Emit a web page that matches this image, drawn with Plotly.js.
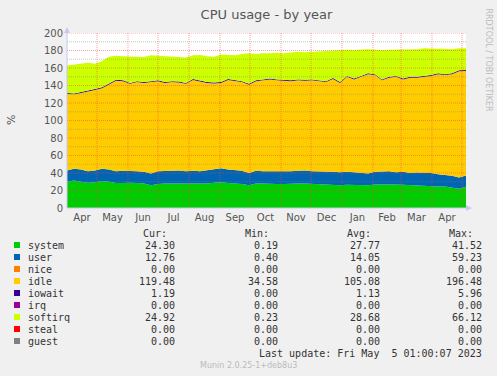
<!DOCTYPE html>
<html><head><meta charset="utf-8">
<script src="https://cdn.plot.ly/plotly-3.0.1.min.js"></script>
<style>html,body{margin:0;padding:0;background:#F0F0F0;}#c{width:497px;height:376px;}</style>
</head><body><div id="c"></div>
<script>
const dates = ["2022-04-01","2022-04-08","2022-04-15","2022-04-22","2022-04-29","2022-05-06","2022-05-13","2022-05-20","2022-05-27","2022-06-03","2022-06-10","2022-06-17","2022-06-24","2022-07-01","2022-07-08","2022-07-15","2022-07-22","2022-07-29","2022-08-05","2022-08-12","2022-08-19","2022-08-26","2022-09-02","2022-09-09","2022-09-16","2022-09-23","2022-09-30","2022-10-07","2022-10-14","2022-10-21","2022-10-28","2022-11-04","2022-11-11","2022-11-18","2022-11-25","2022-12-02","2022-12-09","2022-12-16","2022-12-23","2022-12-30","2023-01-06","2023-01-13","2023-01-20","2023-01-27","2023-02-03","2023-02-10","2023-02-17","2023-02-24","2023-03-03","2023-03-10","2023-03-17","2023-03-24","2023-03-31","2023-04-07","2023-04-14","2023-04-21","2023-04-28","2023-05-05"];
const system = [30,31.5,30,29,29.5,31,30,28.5,28.5,29,28.5,28,26,27.5,28,28,28.5,28,28,28.5,28,29,29.5,28.5,28,27.5,26,28,28,27.5,27.5,27.5,28,28,28,27.5,27.5,27,26.5,26,26.5,26.5,26,26,27,27,27.5,27,26.5,26,26,25.5,25,24.5,24.5,23.5,22,24.30];
const user = [13,13.5,14,13,13.5,14,14,13.5,14,13.5,13.5,13.5,13.5,14.5,14.5,14.5,14.5,14,14.5,13.5,15,15,16,15.5,15.5,15,14,14.5,14,14.5,14,14.5,14,14.5,15,14.5,14.5,15,15,15,15,14.5,14,13.5,14.5,15,14.5,14,15,14,14.5,14.5,15,14,13.5,13.5,13,12.76];
const nice = dates.map(() => 0);
const idle = [87.4,84.9,87.4,90.9,91.9,91.9,96.9,103.4,102.4,99.4,101.9,101.4,104.4,102.9,100.4,101.4,100.4,99.9,103.9,102.9,99.9,98.4,97.4,102.4,101.4,101.4,100.9,102.4,103.9,104.9,104.4,103.4,102.9,103.4,102.4,103.9,102.9,101.9,105.9,101.9,108.4,105.9,109.9,113.4,110.4,103.9,106.9,108.9,105.4,108.9,108.4,109.9,110.9,114.4,113.9,115.9,121.4,119.48];
const iowait = [1.1,1.1,1.1,1.1,1.1,1.1,1.1,1.1,1.1,1.1,1.1,1.1,1.1,1.1,1.1,1.1,1.1,1.1,1.1,1.1,1.1,1.1,1.1,1.1,1.1,1.1,1.1,1.1,1.1,1.1,1.1,1.1,1.1,1.1,1.1,1.1,1.1,1.1,1.1,1.1,1.1,1.1,1.1,1.1,1.1,1.1,1.1,1.1,1.1,1.1,1.1,1.1,1.1,1.1,1.1,1.1,1.1,1.19];
const irq = dates.map(() => 0);
const softirq = [31.5,33,32.5,32,29,30,31,27.5,27.5,30,28,28.5,29.5,28,29,28,28,29,27,29,29.5,29.5,31.5,27.5,28.5,31,35,30,30,29,30.5,30.5,32,31.5,31.5,31.5,33,34.5,32,37,30,32.5,30,27.5,28,33.5,31,30,33,31.5,31.5,31.5,30,28,29,27.5,25,24.92];
const steal = dates.map(() => 0);
const guest = dates.map(() => 0);

const names = ["system","user","nice","idle","iowait","irq","softirq","steal","guest"];
const colors = ["#00CC00","#0066B3","#FF8000","#FFCC00","#330099","#990099","#CCFF00","#FF0000","#808080"];
const series = [system,user,nice,idle,iowait,irq,softirq,steal,guest];
const curV = ["24.30","12.76","0.00","119.48","1.19","0.00","24.92","0.00","0.00"];
const minV = ["0.19","0.40","0.00","34.58","0.00","0.00","0.23","0.00","0.00"];
const avgV = ["27.77","14.05","0.00","105.08","1.13","0.00","28.68","0.00","0.00"];
const maxV = ["41.52","59.23","0.00","196.48","5.96","0.00","66.12","0.00","0.00"];

const traces = series.map((s,i) => ({
  x: dates, y: s, name: names[i], type: 'scatter', mode: 'lines',
  stackgroup: 'one', line: {width: 0, color: colors[i]}, fillcolor: colors[i],
  hoverinfo: 'skip'
}));

// pixel helpers (plot area x 67..466, y 33..208)
const L = 67, R = 466, T = 33, B = 208;
const px = v => (v - L) / (R - L);
const py = v => (B - v) / (B - T);

const shapes = [];
for (let v = 10; v <= 200; v += 10) {
  const major = v % 20 === 0;
  shapes.push({type:'line', layer:'above', xref:'paper', x0:0, x1:1, yref:'y', y0:v, y1:v,
    line:{color: major ? 'rgba(255,60,60,0.5)' : 'rgba(130,130,130,0.45)', width:1, dash:'1px,1px'}});
}
for (let m = 4; m <= 16; m++) {
  const d = new Date(Date.UTC(2022, m, 1));
  const s = d.toISOString().slice(0,10);
  shapes.push({type:'line', layer:'above', xref:'x', x0:s, x1:s, yref:'paper', y0:0, y1:1,
    line:{color:'rgba(255,60,60,0.5)', width:1, dash:'1px,1px'}});
}
shapes.push({type:'path', layer:'above', xref:'paper', yref:'paper',
  path:`M ${px(64)} ${py(33)} L ${px(70)} ${py(33)} L ${px(67)} ${py(27)} Z`,
  fillcolor:'#C8C8F0', line:{width:0}});
shapes.push({type:'path', layer:'above', xref:'paper', yref:'paper',
  path:`M ${px(466)} ${py(205)} L ${px(466)} ${py(211)} L ${px(472)} ${py(208)} Z`,
  fillcolor:'#C8C8F0', line:{width:0}});
shapes.push({type:'line', layer:'above', xref:'paper', yref:'paper', x0:px(67), x1:px(67), y0:py(208), y1:py(33),
  line:{color:'#C8C8F0', width:1}});
shapes.push({type:'line', layer:'above', xref:'paper', yref:'paper', x0:px(67), x1:px(466), y0:py(208), y1:py(208),
  line:{color:'#C8C8F0', width:1}});

const mono = {family:'DejaVu Sans Mono', size:10, color:'#333'};
const ann = [];
const addT = (text, x, y, anchor, font) => ann.push({text, xref:'paper', yref:'paper',
  x: px(x), y: py(y), xanchor: anchor, yanchor:'middle', showarrow:false, font: font || mono});

addT('Cur:', 141, 233, 'left');
addT('Min:', 243, 233, 'left');
addT('Avg:', 345, 233, 'left');
addT('Max:', 447, 233, 'left');
names.forEach((n,i) => {
  const y = 245 + 12*i;
  shapes.push({type:'rect', layer:'above', xref:'paper', yref:'paper',
    x0:px(14), x1:px(20), y0:py(y-3), y1:py(y+3), fillcolor:colors[i], line:{width:0}});
  addT(n, 26, y, 'left');
  addT(curV[i], 177, y, 'right');
  addT(minV[i], 280, y, 'right');
  addT(avgV[i], 382, y, 'right');
  addT(maxV[i], 484, y, 'right');
});
addT('Last update: Fri May  5 01:00:07 2023'.replace(/ /g,'\u00a0'), 484, 353, 'right');
addT('Munin 2.0.25-1+deb8u3', 248, 365, 'center', {family:'DejaVu Sans', size:8, color:'#BBBBBB'});
ann.push({text:'RRDTOOL / TOBI OETIKER', xref:'paper', yref:'paper', x:px(488), y:py(6),
  xanchor:'center', yanchor:'top', textangle:90, showarrow:false,
  font:{family:'DejaVu Sans', size:8, color:'#BBBBBB'}});
ann.push({text:'%', xref:'paper', yref:'paper', x:px(11), y:py(120), xanchor:'center', yanchor:'middle',
  textangle:-90, showarrow:false, font:{family:'DejaVu Sans', size:11, color:'#555'}});

const layout = {
  width:497, height:376, paper_bgcolor:'#F0F0F0', plot_bgcolor:'#FFFFFF',
  margin:{l:L, r:497-R, t:T, b:376-B, pad:0},
  showlegend:false,
  title:{text:'CPU usage - by year', x:0.5, xref:'paper', y:1-14/376, yanchor:'middle',
    font:{family:'DejaVu Sans', size:13, color:'#555'}},
  xaxis:{type:'date', range:['2022-04-01','2023-05-05'], dtick:'M1', tick0:'2022-04-01',
    ticklabelmode:'period', tickformat:'%b', showgrid:false, zeroline:false, ticks:'',
    ticklabelstandoff:2,
    tickfont:{family:'DejaVu Sans', size:10, color:'#555'}, fixedrange:true},
  yaxis:{range:[0,200], dtick:20, showgrid:false, zeroline:false, ticks:'',
    ticklabelstandoff:3,
    tickfont:{family:'DejaVu Sans', size:10, color:'#555'}, fixedrange:true},
  shapes, annotations: ann
};
Plotly.newPlot('c', traces, layout, {displayModeBar:false, staticPlot:true});
</script></body></html>
